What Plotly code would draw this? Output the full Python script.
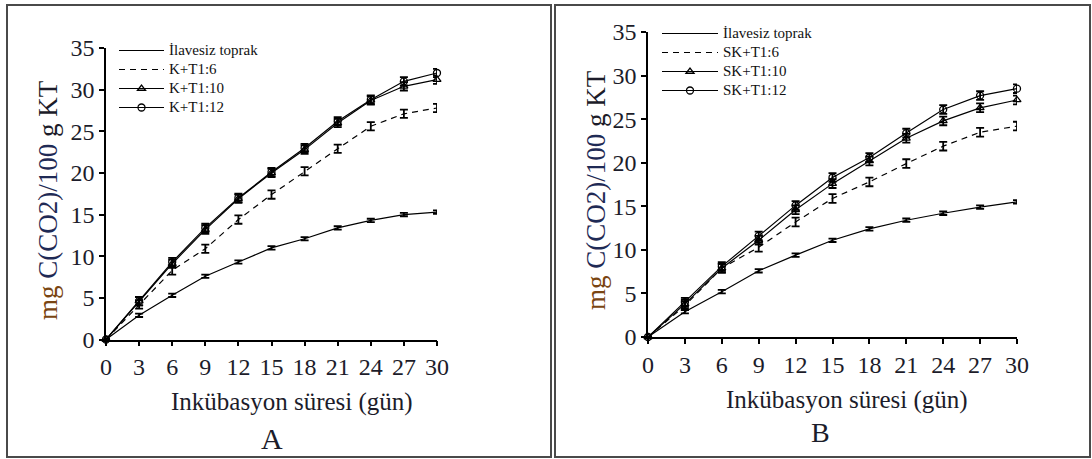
import plotly.graph_objects as go

days = [0, 3, 6, 9, 12, 15, 18, 21, 24, 27, 30]

# Panel A
a_control = [0, 2.9, 5.3, 7.6, 9.3, 11.0, 12.1, 13.4, 14.3, 15.0, 15.3]
a_t6 = [0, 4.2, 8.3, 10.9, 14.4, 17.4, 20.2, 22.9, 25.6, 27.1, 27.8]
a_t10 = [0, 4.6, 9.1, 13.2, 16.9, 20.0, 22.8, 26.0, 28.7, 30.4, 31.2]
a_t12 = [0, 4.6, 9.3, 13.4, 17.0, 20.1, 23.0, 26.2, 28.8, 31.0, 32.0]

# Panel B
b_control = [0, 2.9, 5.2, 7.6, 9.4, 11.1, 12.4, 13.4, 14.2, 14.9, 15.5]
b_t6 = [0, 3.6, 7.9, 10.3, 13.2, 15.9, 17.8, 19.9, 21.9, 23.5, 24.2]
b_t10 = [0, 3.8, 7.9, 11.1, 14.6, 17.6, 20.2, 22.8, 24.8, 26.3, 27.2]
b_t12 = [0, 4.0, 8.1, 11.6, 15.1, 18.3, 20.6, 23.4, 26.1, 27.7, 28.5]

err_small = [0, 0.2, 0.2, 0.2, 0.2, 0.2, 0.2, 0.2, 0.2, 0.2, 0.2]
err_mid = [0, 0.5, 0.5, 0.5, 0.5, 0.5, 0.5, 0.5, 0.5, 0.5, 0.5]

names_a = ["İlavesiz toprak", "K+T1:6", "K+T1:10", "K+T1:12"]
names_b = ["İlavesiz toprak", "SK+T1:6", "SK+T1:10", "SK+T1:12"]

x_ticks = [0, 3, 6, 9, 12, 15, 18, 21, 24, 27, 30]
y_ticks = [0, 5, 10, 15, 20, 25, 30, 35]

FONT = "Liberation Serif"
TXT = "#1c1c2a"

fig = go.Figure()


def add_panel(series, names, xa, ya, legend):
    styles = [
        dict(dash="solid", symbol=None, err=err_small),
        dict(dash="6px,5px", symbol=None, err=err_mid),
        dict(dash="solid", symbol="triangle-up-open", err=err_mid),
        dict(dash="solid", symbol="circle-open", err=err_mid),
    ]
    for ys, nm, st in zip(series, names, styles):
        mode = "lines+markers" if st["symbol"] else "lines"
        tr = dict(
            x=days, y=ys,
            name="<span style='font-size:15px'>" + nm + "</span>",
            mode=mode, xaxis=xa, yaxis=ya,
            legend=legend, cliponaxis=False,
            line=dict(color="black", width=1.2, dash=st["dash"]),
            error_y=dict(type="data", array=st["err"], color="black",
                         thickness=1.8, width=4),
        )
        if st["symbol"]:
            tr["marker"] = dict(symbol=st["symbol"], size=7, color="black",
                                line=dict(width=1.3, color="black"))
        fig.add_trace(go.Scatter(**tr))


add_panel([a_control, a_t6, a_t10, a_t12], names_a, "x", "y", "legend")
add_panel([b_control, b_t6, b_t10, b_t12], names_b, "x2", "y2", "legend2")

W, H = 1092, 459


def px(x):
    return x / W


def py(y):
    return 1 - y / H


axis_common = dict(
    showgrid=False, zeroline=False, showline=True, linecolor="black",
    linewidth=1.5, ticks="outside", ticklen=5, tickwidth=1.5,
    tickcolor="black", tickfont=dict(family=FONT, size=24, color=TXT),
    fixedrange=True, automargin=False,
)

fig.update_layout(
    width=W, height=H,
    margin=dict(l=0, r=0, t=0, b=0, pad=0, autoexpand=False),
    paper_bgcolor="white", plot_bgcolor="white",
    xaxis=dict(domain=[px(106), px(437)], range=[0, 30], tickvals=x_ticks,
               anchor="y", **axis_common),
    yaxis=dict(domain=[py(339.5), py(48)], range=[0, 35], tickvals=y_ticks,
               anchor="x", **axis_common),
    xaxis2=dict(domain=[px(648), px(1017)], range=[0, 30], tickvals=x_ticks,
                anchor="y2", **axis_common),
    yaxis2=dict(domain=[py(337), py(32)], range=[0, 35], tickvals=y_ticks,
                anchor="x2", **axis_common),
    legend=dict(x=px(114), y=py(36), xanchor="left", yanchor="top",
                bgcolor="rgba(0,0,0,0)", borderwidth=0, tracegroupgap=0,
                itemwidth=45,
                font=dict(family=FONT, size=12, color="#111")),
    legend2=dict(x=px(657), y=py(19), xanchor="left", yanchor="top",
                 bgcolor="rgba(0,0,0,0)", borderwidth=0, tracegroupgap=0,
                 itemwidth=56,
                 font=dict(family=FONT, size=12, color="#111")),
    showlegend=True,
)

ytitle = ("<span style='color:#7a4512'>mg</span> "
          "<span style='color:#1f2a55'>C(CO2)/100</span> g KT")

annos = [
    dict(x=px(48), y=py(200), text=ytitle, textangle=-90),
    dict(x=px(596), y=py(190), text=ytitle, textangle=-90),
]
for a in annos:
    a.update(xref="paper", yref="paper", showarrow=False,
             font=dict(family=FONT, size=27, color=TXT),
             xanchor="center", yanchor="middle")
    fig.add_annotation(**a)

for xc, yc, t, s in [(292, 402, "Inkübasyon süresi (gün)", 25),
                     (847, 400, "Inkübasyon süresi (gün)", 25),
                     (272, 438, "A", 30),
                     (820, 432, "B", 28)]:
    fig.add_annotation(x=px(xc), y=py(yc), xref="paper", yref="paper",
                       text=t, showarrow=False, xanchor="center",
                       yanchor="middle",
                       font=dict(family=FONT, size=s, color=TXT))

# panel frames
for x0, x1 in [(7, 551), (555, 1090)]:
    fig.add_shape(type="rect", xref="paper", yref="paper",
                  x0=px(x0), x1=px(x1), y0=py(457), y1=py(5),
                  line=dict(color="#4a4a4a", width=2), layer="below")

fig.write_html(
    "out.html",
    config={"displayModeBar": False},
    post_script="document.body.style.margin='0';"
                "document.body.style.overflow='hidden';",
)
